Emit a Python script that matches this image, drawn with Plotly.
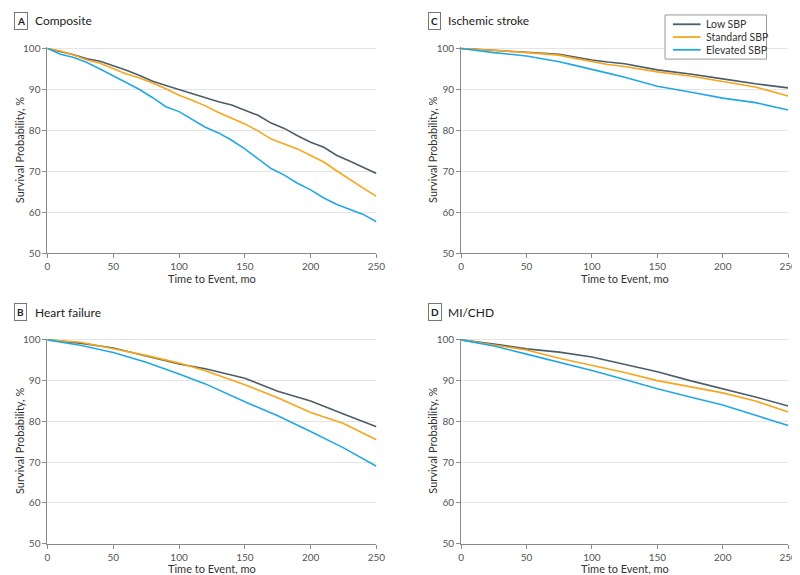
"""
Curvas de supervivencia Kaplan-Meier por grupo de PAS (Plotly).

Cuatro paneles: compuesto, ictus isquémico, insuficiencia cardiaca e IM/EC.
"""

import plotly.graph_objects as go

COLOR_LOW = "#4b5e69"
COLOR_STD = "#f7a51c"
COLOR_ELEV = "#22a8e3"
FUENTE = "Lato, sans-serif"

W, H = 800, 575

SERIES = ["Low SBP", "Standard SBP", "Elevated SBP"]

# Panel A: Composite (cada 10 meses)
t_a = [0, 10, 20, 30, 40, 50, 60, 70, 80, 90, 100, 110, 120, 130, 140, 150,
       160, 170, 180, 190, 200, 210, 220, 230, 240, 250]
a_low = [100, 99.3, 98.5, 97.5, 96.9, 95.8, 94.7, 93.4, 92.0, 91.0, 90.0, 89.0,
         88.0, 87.0, 86.2, 85.0, 83.7, 81.8, 80.5, 78.7, 77.1, 75.9, 73.9, 72.5,
         71.1, 69.5]
a_std = [100, 99.4, 98.4, 97.2, 96.4, 95.0, 93.8, 92.8, 91.6, 90.2, 88.6, 87.4,
         86.0, 84.4, 83.0, 81.6, 79.9, 77.9, 76.7, 75.5, 73.9, 72.3, 70.1, 67.9,
         65.9, 63.9]
a_elev = [100, 98.6, 97.8, 96.6, 95.0, 93.4, 91.8, 90.0, 88.0, 85.8, 84.6, 82.8,
          80.8, 79.4, 77.6, 75.5, 73.1, 70.7, 69.1, 67.1, 65.5, 63.5, 61.9, 60.7,
          59.5, 57.7]

# Panel C: Ischemic stroke
t_c = [0, 25, 50, 75, 87, 100, 112, 125, 150, 175, 200, 225, 250]
c_low = [100, 99.6, 99.1, 98.6, 97.9, 97.2, 96.7, 96.3, 94.8, 93.8, 92.6, 91.4, 90.4]
c_std = [100, 99.6, 99.0, 98.4, 97.6, 96.8, 96.1, 95.6, 94.3, 93.3, 91.9, 90.6, 88.4]
c_elev = [100, 99.0, 98.2, 96.8, 95.9, 95.0, 94.0, 93.0, 90.8, 89.4, 87.9, 86.8, 85.0]

# Panel B: Heart failure
t_b = [0, 25, 50, 75, 100, 120, 150, 175, 200, 225, 250]
b_low = [100, 99.2, 98.0, 96.1, 94.1, 92.9, 90.6, 87.4, 85.0, 81.8, 78.7]
b_std = [100, 99.4, 97.8, 96.2, 94.3, 92.4, 89.0, 85.8, 82.2, 79.5, 75.5]
b_elev = [100, 98.7, 96.9, 94.5, 91.6, 89.2, 84.8, 81.4, 77.5, 73.5, 69.0]

# Panel D: MI/CHD
t_d = [0, 25, 50, 75, 100, 125, 150, 175, 200, 225, 250]
d_low = [100, 99.0, 97.8, 97.0, 95.8, 94.0, 92.2, 90.0, 88.0, 86.0, 83.8]
d_std = [100, 98.8, 97.5, 95.5, 93.8, 92.0, 90.0, 88.5, 87.0, 85.0, 82.3]
d_elev = [100, 98.5, 96.5, 94.5, 92.5, 90.3, 88.0, 86.0, 84.0, 81.5, 79.0]

PANELES = [
    ("A", "Composite", t_a, [a_low, a_std, a_elev], (37, 371), (35, 245)),
    ("C", "Ischemic stroke", t_c, [c_low, c_std, c_elev], (457, 789), (35, 245)),
    ("B", "Heart failure", t_b, [b_low, b_std, b_elev], (37, 371), (332, 541)),
    ("D", "MI/CHD", t_d, [d_low, d_std, d_elev], (457, 789), (332, 541)),
]
COLORES = [COLOR_LOW, COLOR_STD, COLOR_ELEV]

fig = go.Figure()
anotaciones = []
formas = []
for i, (letra, titulo, t, curvas, (x0, x1), (y0, y1)) in enumerate(PANELES):
    sfx = "" if i == 0 else str(i + 1)
    for nombre, serie, color in zip(SERIES, curvas, COLORES):
        fig.add_trace(go.Scatter(
            x=t, y=serie, name=nombre, mode="lines",
            line=dict(color=color, width=1.6),
            xaxis="x" + sfx, yaxis="y" + sfx, showlegend=False,
        ))
    eje = dict(
        showline=True, linecolor="#8a8a8a", linewidth=1,
        ticks="outside", ticklen=4, tickcolor="#8a8a8a",
        tickfont=dict(size=10, color="#555"), zeroline=False,
    )
    fig.layout["xaxis" + sfx] = dict(
        eje, domain=[x0 / W, x1 / W], range=[0, 250], dtick=50,
        showgrid=False, anchor="y" + sfx,
    )
    fig.layout["yaxis" + sfx] = dict(
        eje, domain=[1 - y1 / H, 1 - y0 / H], range=[50, 100.3], dtick=10,
        showgrid=True, gridcolor="#e4e4e4", anchor="x" + sfx,
    )
    # títulos de ejes
    anotaciones.append(dict(
        text="Time to Event, mo", xref="paper", yref="paper",
        x=(x0 + x1) / 2 / W, y=1 - (y1 + 25.5) / H, xanchor="center",
        yanchor="middle", showarrow=False, font=dict(size=11, color="#333"),
    ))
    anotaciones.append(dict(
        text="Survival Probability, %", xref="paper", yref="paper",
        x=(x0 - 29) / W, y=1 - (y0 + y1) / 2 / H, xanchor="center",
        yanchor="middle", textangle=-90, showarrow=False,
        font=dict(size=11, color="#333"),
    ))
    # cabecera del panel
    bx = x0 - 34
    by = y0 - 27
    anotaciones.append(dict(
        text=f"<b>{letra}</b>", xref="paper", yref="paper",
        x=bx / W, y=1 - by / H, xanchor="left", yanchor="middle",
        showarrow=False, font=dict(size=10, color="#222"),
        bordercolor="#777", borderwidth=1, borderpad=2, bgcolor="white",
    ))
    anotaciones.append(dict(
        text=titulo, xref="paper", yref="paper",
        x=(bx + 19) / W, y=1 - by / H, xanchor="left", yanchor="middle",
        showarrow=False, font=dict(size=12, color="#222"),
    ))

# leyenda dibujada a mano (caja compacta como en la figura original)
lx0, lx1, ly0, ly1 = 664, 767, 2, 47
formas.append(dict(
    type="rect", xref="paper", yref="paper",
    x0=lx0 / W, x1=lx1 / W, y0=1 - ly1 / H, y1=1 - ly0 / H,
    line=dict(color="#999", width=1), fillcolor="white", layer="above",
))
for k, (nombre, color) in enumerate(zip(SERIES, COLORES)):
    yy = 1 - (11.5 + 13 * k) / H
    formas.append(dict(
        type="line", xref="paper", yref="paper",
        x0=672 / W, x1=700 / W, y0=yy, y1=yy,
        line=dict(color=color, width=1.8), layer="above",
    ))
    anotaciones.append(dict(
        text=nombre, xref="paper", yref="paper", x=704 / W, y=yy,
        xanchor="left", yanchor="middle", showarrow=False,
        font=dict(size=10.5, color="#333"),
    ))

fig.update_layout(
    width=W, height=H,
    margin=dict(l=0, r=0, t=0, b=0),
    paper_bgcolor="white", plot_bgcolor="white",
    font=dict(family=FUENTE, color="#333"),
    annotations=anotaciones, shapes=formas,
    showlegend=False,
)

fig.write_html("out.html")
